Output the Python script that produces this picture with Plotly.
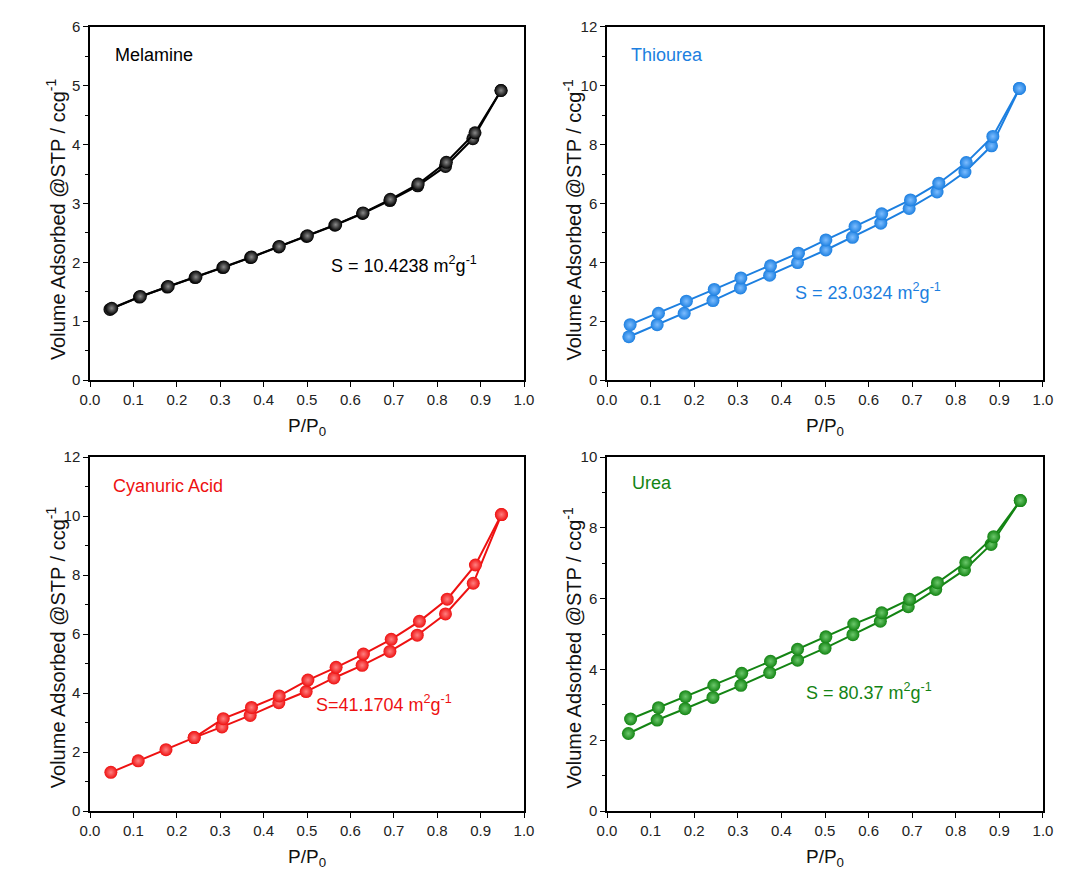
import plotly.graph_objects as go

# ---------------- data ----------------
mel_ads_x = [0.046, 0.114, 0.178, 0.242, 0.306, 0.370, 0.435, 0.499, 0.564, 0.628, 0.691, 0.755, 0.819, 0.882, 0.947]
mel_ads_y = [1.20, 1.41, 1.58, 1.74, 1.91, 2.08, 2.26, 2.44, 2.63, 2.83, 3.05, 3.30, 3.63, 4.10, 4.92]
mel_des_x = [0.050, 0.116, 0.180, 0.244, 0.308, 0.372, 0.436, 0.501, 0.566, 0.629, 0.692, 0.756, 0.821, 0.887, 0.947]
mel_des_y = [1.22, 1.42, 1.59, 1.75, 1.92, 2.09, 2.27, 2.45, 2.64, 2.84, 3.07, 3.33, 3.70, 4.20, 4.92]

thi_ads_x = [0.050, 0.115, 0.177, 0.243, 0.306, 0.373, 0.437, 0.502, 0.563, 0.628, 0.693, 0.757, 0.821, 0.882, 0.946]
thi_ads_y = [1.47, 1.88, 2.27, 2.70, 3.13, 3.56, 3.99, 4.42, 4.85, 5.33, 5.83, 6.39, 7.07, 7.96, 9.91]
thi_des_x = [0.053, 0.118, 0.182, 0.246, 0.307, 0.375, 0.439, 0.502, 0.569, 0.630, 0.696, 0.761, 0.824, 0.885, 0.946]
thi_des_y = [1.88, 2.27, 2.68, 3.08, 3.47, 3.88, 4.31, 4.76, 5.22, 5.65, 6.12, 6.69, 7.39, 8.28, 9.91]

cya_ads_x = [0.048, 0.111, 0.175, 0.240, 0.304, 0.369, 0.435, 0.498, 0.562, 0.627, 0.691, 0.754, 0.819, 0.883, 0.948]
cya_ads_y = [1.31, 1.70, 2.08, 2.49, 2.85, 3.24, 3.67, 4.05, 4.51, 4.94, 5.41, 5.96, 6.68, 7.72, 10.05]
cya_des_x = [0.240, 0.307, 0.372, 0.436, 0.502, 0.567, 0.630, 0.694, 0.759, 0.823, 0.888, 0.948]
cya_des_y = [2.49, 3.13, 3.51, 3.90, 4.44, 4.87, 5.32, 5.82, 6.43, 7.18, 8.34, 10.05]

ure_ads_x = [0.049, 0.115, 0.179, 0.243, 0.307, 0.373, 0.437, 0.500, 0.564, 0.627, 0.691, 0.754, 0.820, 0.881, 0.948]
ure_ads_y = [2.19, 2.57, 2.89, 3.21, 3.55, 3.91, 4.26, 4.60, 4.98, 5.36, 5.77, 6.26, 6.81, 7.53, 8.77]
ure_des_x = [0.054, 0.118, 0.180, 0.245, 0.309, 0.375, 0.437, 0.502, 0.566, 0.630, 0.694, 0.758, 0.823, 0.887, 0.948]
ure_des_y = [2.60, 2.92, 3.23, 3.55, 3.89, 4.23, 4.57, 4.92, 5.28, 5.60, 5.98, 6.45, 7.02, 7.75, 8.77]

names = ["Melamine", "Thiourea", "Cyanuric Acid", "Urea"]
surface = ["S = 10.4238 m<sup>2</sup>g<sup>-1</sup>", "S = 23.0324 m<sup>2</sup>g<sup>-1</sup>",
           "S=41.1704 m<sup>2</sup>g<sup>-1</sup>", "S = 80.37 m<sup>2</sup>g<sup>-1</sup>"]
y_title = "Volume Adsorbed @STP / ccg<sup>-1</sup>"
x_title = "P/P<sub>0</sub>"
y_max = [6, 12, 12, 10]
y_dtick = [1, 2, 2, 2]
x_ticks = [0.0, 0.1, 0.2, 0.3, 0.4, 0.5, 0.6, 0.7, 0.8, 0.9, 1.0]

colors = ["#000000", "#1C7FE0", "#EE1111", "#138413"]
highlights = ["#8A8A8A", "#7DBDFF", "#FF8080", "#6CC86C"]

series = [
    (mel_ads_x, mel_ads_y, mel_des_x, mel_des_y),
    (thi_ads_x, thi_ads_y, thi_des_x, thi_des_y),
    (cya_ads_x, cya_ads_y, cya_des_x, cya_des_y),
    (ure_ads_x, ure_ads_y, ure_des_x, ure_des_y),
]

# panel geometry (paper fractions; compensates the page's 8px body margin)
x_domains = [[0.0756, 0.4756], [0.5521, 0.9539], [0.0756, 0.4756], [0.5521, 0.9539]]
y_domains = [[0.5763, 0.9784], [0.5763, 0.9784], [0.0854, 0.4886], [0.0854, 0.4886]]
name_pos = [(0.053, 0.92), (0.05, 0.92), (0.048, 0.918), (0.053, 0.927)]
s_pos = [(0.55, 0.326), (0.427, 0.25), (0.516, 0.305), (0.452, 0.339)]
ytitle_pos = [(-0.079, 0.455), (-0.080, 0.455), (-0.079, 0.462), (-0.080, 0.462)]

FONT = "Liberation Sans, Arial, sans-serif"

fig = go.Figure()
for i in range(4):
    xa = "x" if i == 0 else f"x{i+1}"
    ya = "y" if i == 0 else f"y{i+1}"
    ax, ay, dx, dy = series[i]
    for xs, ys in ((ax, ay), (dx, dy)):
        fig.add_trace(go.Scatter(
            x=xs, y=ys, xaxis=xa, yaxis=ya, mode="lines+markers",
            line=dict(color=colors[i], width=2),
            marker=dict(size=13, color=colors[i],
                        gradient=dict(type="radial", color=highlights[i]),
                        line=dict(width=0)),
            showlegend=False))

    axis_common = dict(showline=True, linecolor="black", linewidth=1.5, mirror=True,
                       ticks="outside", ticklen=5, tickwidth=1.2, tickcolor="black",
                       showgrid=False, zeroline=False, automargin=False,
                       tickfont=dict(family=FONT, size=15, color="#222"))
    xkey = "xaxis" if i == 0 else f"xaxis{i+1}"
    ykey = "yaxis" if i == 0 else f"yaxis{i+1}"
    fig.update_layout(**{
        xkey: dict(axis_common, domain=x_domains[i], anchor=ya, range=[0, 1],
                   tickvals=x_ticks, ticktext=[f"{v:.1f}" for v in x_ticks],
                   title=dict(text=x_title, font=dict(family=FONT, size=19, color="#111"),
                              standoff=12)),
        ykey: dict(axis_common, domain=y_domains[i], anchor=xa, range=[0, y_max[i]],
                   dtick=y_dtick[i], tick0=0,
                   minor=dict(ticks="outside", ticklen=3, dtick=y_dtick[i] / 2, tickcolor="black", showgrid=False)),
    })
    fig.add_annotation(text=y_title, xref=f"{xa} domain", yref=f"{ya} domain",
                       x=ytitle_pos[i][0], y=ytitle_pos[i][1], xanchor="center", yanchor="middle",
                       textangle=-90, showarrow=False,
                       font=dict(family=FONT, size=20, color="#111"))
    fig.add_annotation(text=names[i], xref=f"{xa} domain", yref=f"{ya} domain",
                       x=name_pos[i][0], y=name_pos[i][1], xanchor="left", yanchor="middle",
                       showarrow=False, font=dict(family=FONT, size=18, color=colors[i]))
    fig.add_annotation(text=surface[i], xref=f"{xa} domain", yref=f"{ya} domain",
                       x=s_pos[i][0], y=s_pos[i][1], xanchor="left", yanchor="middle",
                       showarrow=False, font=dict(family=FONT, size=18, color=colors[i]))

fig.update_layout(width=1085, height=878, margin=dict(l=0, r=0, t=0, b=0, autoexpand=False),
                  paper_bgcolor="white", plot_bgcolor="white")
fig.write_html("out.html")
